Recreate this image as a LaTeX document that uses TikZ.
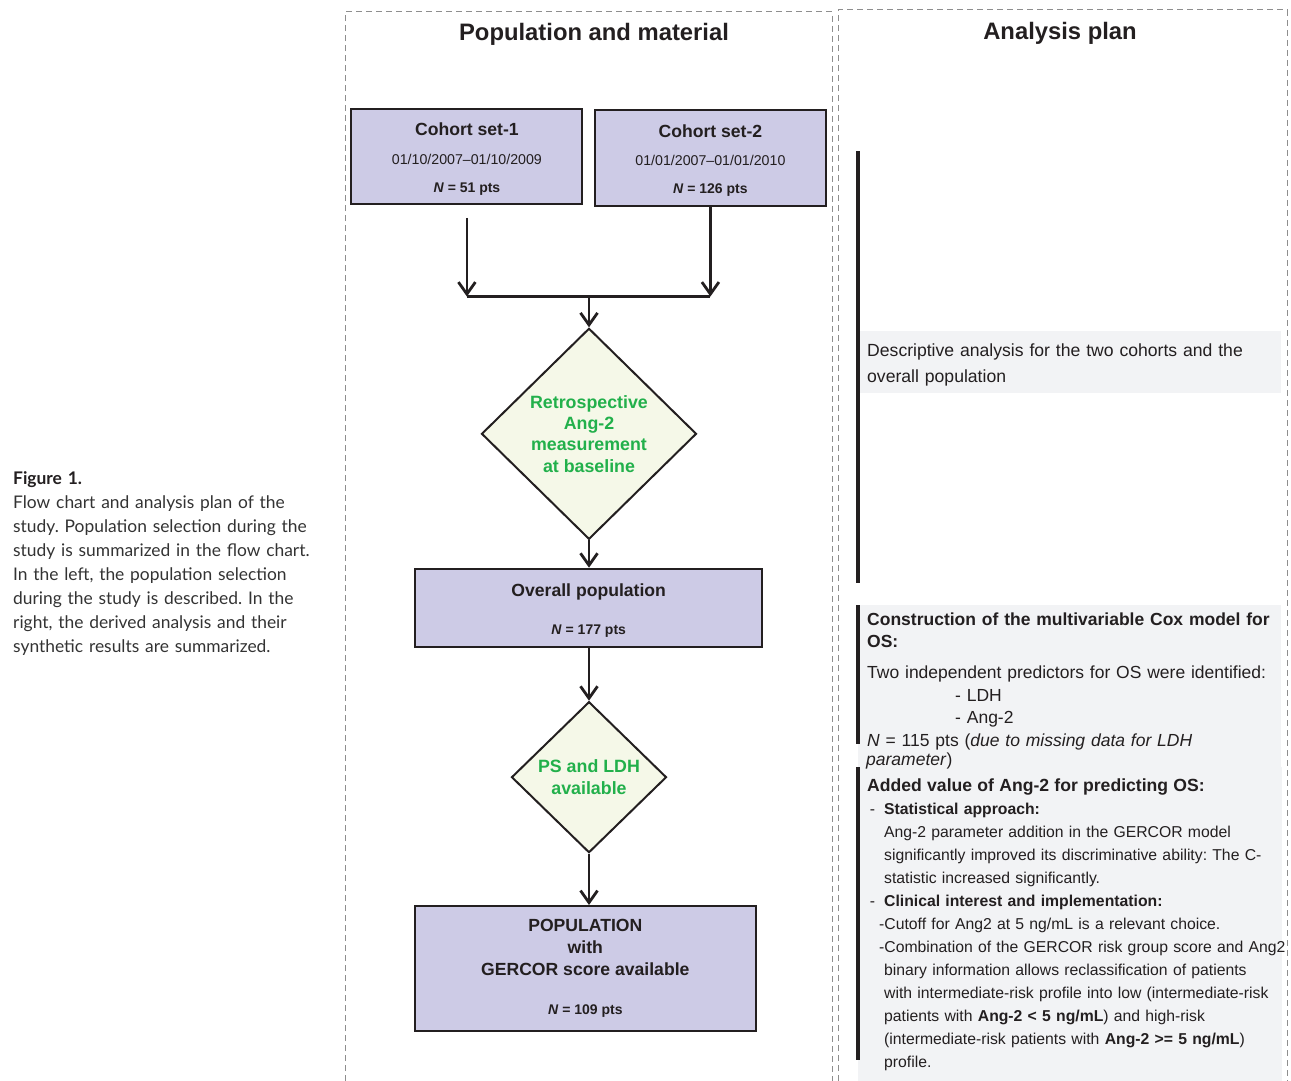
\documentclass[tikz,border=0pt]{standalone}
\usepackage{fontspec}
\setmainfont{Liberation Sans}
\newfontfamily\capfont{Lato}
\usetikzlibrary{shapes.geometric,arrows.meta}
\definecolor{boxfill}{HTML}{CDCBE6}
\definecolor{diafill}{HTML}{F5F8E8}
\definecolor{greentext}{HTML}{22B04B}
\definecolor{ink}{HTML}{231F20}
\definecolor{panelgray}{HTML}{F2F3F5}
\definecolor{dashgray}{HTML}{8E8E8E}
\definecolor{capgray}{HTML}{333333}
\frenchspacing
\tikzset{
  box/.style={rectangle, draw=ink, line width=2pt, fill=boxfill, inner sep=0pt},
  dia/.style={diamond, aspect=1, draw=ink, line width=2pt, fill=diafill, inner sep=0pt,
    text=greentext, align=center, font=\fontsize{17.8}{21.3}\selectfont\bfseries},
  txt/.style={inner sep=0pt, text=ink},
  ttl/.style={txt, anchor=base, font=\fontsize{17.6}{21}\selectfont\bfseries},
  sml/.style={txt, anchor=base, font=\fontsize{14.2}{17}\selectfont},
  smlb/.style={txt, anchor=base, font=\fontsize{14}{17}\selectfont\bfseries},
  conn/.style={draw=ink, line width=2.8pt},
  arr/.style={conn, -{Straight Barb[length=12pt,width=17pt]}},
  panel/.style={draw=dashgray, line width=1pt, dash pattern=on 6pt off 4pt},
  para/.style={txt, anchor=base west, text width=450pt, align=left}
}
\begin{document}
\begin{tikzpicture}[x=1pt,y=-1pt]
\useasboundingbox (0,0) rectangle (1291,1081);

% panels
\draw[panel] (345,1081) -- (345,12) -- (832,12) -- (832,1081);
\draw[panel] (838,1081) -- (838,10) -- (1287,10) -- (1287,1081);
\node[txt, anchor=base, font=\fontsize{23.8}{28}\selectfont\bfseries] (t1) at (594,40.5) {Population and material};
\node[txt, anchor=base, font=\fontsize{23.8}{28}\selectfont\bfseries] (t2) at (1060,40) {Analysis plan};

% caption
\node[inner sep=0pt, anchor=base west, text width=340pt, align=left, text=capgray,
      font=\capfont\fontsize{17.4}{24}\selectfont] (cap) at (13,484)
{{\bfseries\color{ink}Figure 1.}\\
Flow chart and analysis plan of the\\
study. Population selection during the\\
study is summarized in the flow chart.\\
In the left, the population selection\\
during the study is described. In the\\
right, the derived analysis and their\\
synthetic results are summarized.};

% cohort boxes
\node[box, minimum width=231pt, minimum height=95.5pt] (c1) at (466.9,156.5) {};
\node[ttl] (c1a) at (466.9,135) {Cohort set-1};
\node[sml] (c1b) at (466.9,164.3) {01/10/2007\textendash 01/10/2009};
\node[smlb] (c1c) at (466.9,192.3) {\textit{N} = 51 pts};

\node[box, minimum width=231pt, minimum height=95.5pt] (c2) at (710.4,158) {};
\node[ttl] (c2a) at (710.4,137.3) {Cohort set-2};
\node[sml] (c2b) at (710.4,165.7) {01/01/2007\textendash 01/01/2010};
\node[smlb] (c2c) at (710.4,193.3) {\textit{N} = 126 pts};

\coordinate (bar) at (589,296.5);

% diamonds
\node[dia, minimum width=215pt, minimum height=211pt] (d1) at (589,433.8)
  {Retrospective\\Ang-2\\measurement\\at baseline};

\node[box, minimum width=347pt, minimum height=78pt] (ov) at (588.7,607.7) {};
\node[ttl] (ova) at (588.7,596) {Overall population};
\node[smlb] (ovb) at (588.7,634) {\textit{N} = 177 pts};

\node[dia, minimum width=155pt, minimum height=151pt] (d2) at (589,777.2)
  {PS and LDH\\available};

\node[box, minimum width=340.5pt, minimum height=125pt] (pop) at (585.3,968.5) {};
\node[ttl, align=center, font=\fontsize{17.6}{21.6}\selectfont\bfseries] (popa) at (585.3,975)
  {POPULATION\\with\\GERCOR score available};
\node[smlb] (popb) at (585.3,1014) {\textit{N} = 109 pts};

% connectors
\draw[arr] ([yshift=-12.5pt]c1.south) -- (c1.south |- bar);
\draw[arr] (c2.south) -- (c2.south |- bar);
\draw[conn] (c1.south |- bar) -- (c2.south |- bar);
\draw[arr] (bar) -- (d1.north);
\draw[arr] (d1.south) -- (d1.south |- ov.north);
\draw[arr] (d2.north |- ov.south) -- (d2.north);
\draw[arr] (d2.south) -- (d2.south |- pop.north);

% right panel backgrounds and bars
\fill[panelgray] (858,331) rectangle (1281,393);
\fill[panelgray] (858,605) rectangle (1281,767);
\fill[panelgray] (858,767) rectangle (1282,1081);
\fill[ink] (856,151) rectangle (860,583);
\fill[ink] (856,605) rectangle (860,744);
\fill[ink] (856,767) rectangle (860,1060);

% right panel texts
\node[para, font=\fontsize{17.6}{26}\selectfont] (r1) at (867,356)
{Descriptive analysis for the two cohorts and the\\
overall population};

\node[para, font=\fontsize{17.5}{22.5}\selectfont] (r2) at (867,625)
{\textbf{Construction of the multivariable Cox model for}\\
\textbf{OS:}\\[8.5pt]
Two independent predictors for OS were identified:\\
\hspace*{88pt}- LDH\\
\hspace*{88pt}- Ang-2\\
\textit{N} = 115 pts (\textit{due to missing data for LDH}\\[-3.5pt]
\hspace*{-1pt}\textit{parameter})};

\node[para, font=\fontsize{15.75}{23.05}\selectfont] (r3) at (867,791)
{{\fontsize{17.6}{23.05}\selectfont\bfseries Added value of Ang-2 for predicting OS:}\\
\makebox[17pt][l]{\,-}\textbf{Statistical approach:}\\
\hspace*{17pt}Ang-2 parameter addition in the GERCOR model\\
\hspace*{17pt}significantly improved its discriminative ability: The C-\\
\hspace*{17pt}statistic increased significantly.\\
\makebox[17pt][l]{\,-}\textbf{Clinical interest and implementation:}\\
\hspace*{12pt}-Cutoff for Ang2 at 5 ng/mL is a relevant choice.\\
\hspace*{12pt}-Combination of the GERCOR risk group score and Ang2\\
\hspace*{17pt}binary information allows reclassification of patients\\
\hspace*{17pt}with intermediate-risk profile into low (intermediate-risk\\
\hspace*{17pt}patients with \textbf{Ang-2 < 5 ng/mL}) and high-risk\\
\hspace*{17pt}(intermediate-risk patients with \textbf{Ang-2 >= 5 ng/mL})\\
\hspace*{17pt}profile.};

\end{tikzpicture}
\end{document}
